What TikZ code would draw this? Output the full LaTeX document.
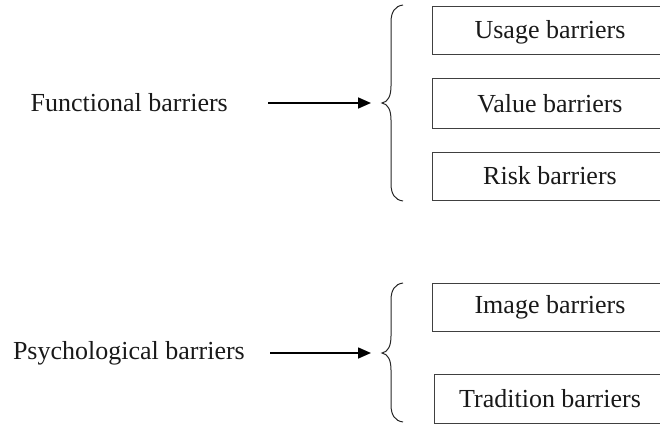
\documentclass[tikz,border=0pt]{standalone}
\usepackage{fontspec}
\setmainfont{Liberation Serif}
\usetikzlibrary{arrows.meta}
\begin{document}
\begin{tikzpicture}[x=1pt,y=-1pt,
  lbl/.style={inner sep=0pt,font=\fontsize{26}{30}\selectfont,text=black!90},
  barbox/.style={draw=black!75,line width=1pt,minimum width=260pt,minimum height=48pt,inner sep=0pt,anchor=west},
  brc/.style={draw=black!85,line width=1pt},
  arr/.style={draw=black,line width=1.6pt,-{Triangle[length=13pt,width=11pt]}}]
\useasboundingbox (0,0) rectangle (660,425);
\clip (0,0) rectangle (660,425);
% left labels
\node[lbl,anchor=east] (fb) at (228,103) {Functional barriers};
\node[lbl,anchor=east] (pb) at (245,353) {Psychological barriers};
% boxes
\node[barbox] (ub) at (432,31) {};
\node[lbl] (ubt) at (550,32) {Usage barriers};
\node[barbox,minimum height=49pt] (vb) at (432,103.5) {};
\node[lbl] (vbt) at (550,103.5) {Value barriers};
\node[barbox] (rb) at (432,176) {};
\node[lbl] (rbt) at (550,176) {Risk barriers};
\node[barbox] (ib) at (432,307) {};
\node[lbl] (ibt) at (550,307) {Image barriers};
\node[barbox,minimum height=49pt] (tb) at (434,398.5) {};
\node[lbl] (tbt) at (550,398.5) {Tradition barriers};
% braces
\coordinate (t1) at (382,103);
\coordinate (t2) at (382,353);
\draw[brc] (403,5) .. controls (395,6) and (391,12) .. (391,22) -- (391,86)
  .. controls (391,96) and (388,102) .. (t1)
  .. controls (388,104) and (391,110) .. (391,120) -- (391,184)
  .. controls (391,194) and (395,200) .. (403,201);
\draw[brc] (403,283) .. controls (395,284) and (391,290) .. (391,300) -- (391,336)
  .. controls (391,346) and (388,352) .. (t2)
  .. controls (388,354) and (391,360) .. (391,370) -- (391,405)
  .. controls (391,415) and (395,421) .. (403,422);
% arrows
\draw[arr] ([xshift=40pt]fb.east) -- ([xshift=-11pt]t1);
\draw[arr] ([xshift=25pt]pb.east |- t2) -- ([xshift=-11pt]t2);
\end{tikzpicture}
\end{document}
